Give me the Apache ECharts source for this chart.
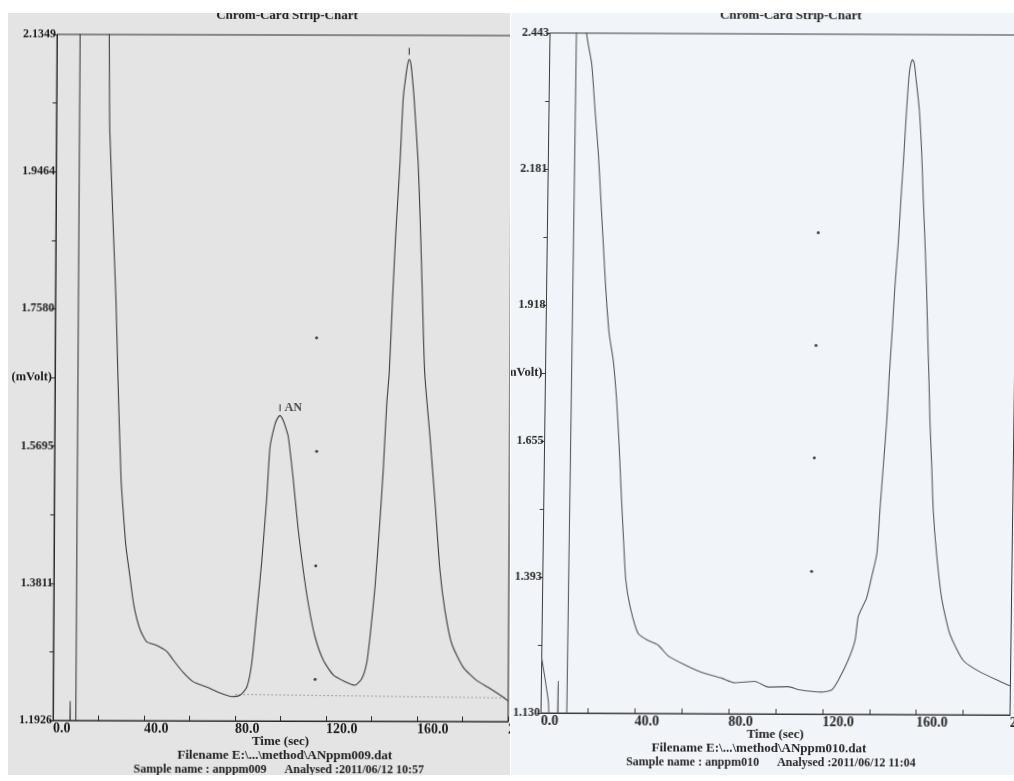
<!DOCTYPE html>
<html>
<head>
<meta charset="utf-8">
<script src="https://cdn.jsdelivr.net/npm/echarts@6/dist/echarts.min.js"></script>
<style>
  html, body { margin: 0; padding: 0; width: 1014px; height: 781px; overflow: hidden; background: #ffffff; }
  .panel { position: absolute; overflow: hidden; }
  #leftWrap { left: 8px; top: 13px; width: 502px; height: 762px; background: #e4e4e4; }
  #rightWrap { left: 511px; top: 13px; width: 503px; height: 762px; background: #f1f4f9; }
  #leftChart { position: absolute; left: -8px; top: -13px; width: 540px; height: 781px;
    transform-origin: 282.5px 378px; transform: rotate(0.15deg) skewX(-0.18deg); }
  #rightChart { position: absolute; left: -511px; top: -13px; width: 1040px; height: 781px;
    transform-origin: 780px 374px; transform: rotate(0.25deg) skewX(-0.51deg); }
</style>
</head>
<body>
<div id="leftWrap" class="panel"><div id="leftChart"></div></div>
<div id="rightWrap" class="panel"><div id="rightChart"></div></div>
<script>
// ---------- data ----------
const chartTitle = 'Chrom-Card Strip-Chart';
const xAxisName = 'Time (sec)';
const yAxisName = '(mVolt)';
const xTickValues = [0, 20, 40, 60, 80, 100, 120, 140, 160, 180, 200];
const xLabelValues = [0, 40, 80, 120, 160, 200];

// left run: anppm009
const leftFile = 'Filename E:\\...\\method\\ANppm009.dat';
const leftSample = 'Sample name : anppm009      Analysed :2011/06/12 10:57';
const leftYTicks = [1.1926, 1.3811, 1.5695, 1.7580, 1.9464, 2.1349];
const leftYLabels = ['1.1926', '1.3811', '1.5695', '1.7580', '1.9464', '2.1349'];
const leftTime = [0, 7.2, 7.5, 7.8, 10.0, 10.2, 22.6, 23.0, 23.5, 26.6, 27.7, 29.3, 30.7, 31.6, 33.2, 35.3,
  38.0, 41.0, 45.4, 49.8, 52.7, 57.1, 61.6, 67.5, 73.3, 78.5, 82.2, 85.1, 87.2, 89.3, 91.3, 93.4, 94.7,
  96.8, 98.0, 99.0, 100.2, 101.4, 102.7, 105.0, 107.3, 109.6, 111.9, 114.9, 118.7, 123.1, 128.2, 132.6,
  135.6, 137.7, 139.1, 141.2, 143.2, 144.5, 145.9, 146.9, 148.2, 149.5, 151.1, 152.4, 153.8, 154.4, 154.9,
  155.5, 156.0, 157.1, 159.1, 160.3, 161.3, 162.5, 165.0, 167.4, 169.7, 172.0, 175.1, 180.2, 186.1, 192.0,
  197.9, 200];
const leftSignal = [1.17, 1.17, 1.219, 1.17, 1.17, 2.25, 2.25, 2.135, 2.000, 1.771, 1.661, 1.524, 1.465, 1.432, 1.396, 1.350,
  1.318, 1.301, 1.296, 1.288, 1.276, 1.259, 1.246, 1.239, 1.231, 1.226, 1.228, 1.239, 1.272, 1.341, 1.410, 1.500, 1.569,
  1.600, 1.609, 1.612, 1.607, 1.597, 1.583, 1.524, 1.455, 1.400, 1.354, 1.309, 1.276, 1.256, 1.247, 1.242,
  1.251, 1.272, 1.308, 1.377, 1.469, 1.537, 1.629, 1.671, 1.775, 1.867, 1.959, 2.050, 2.087, 2.098, 2.102,
  2.098, 2.087, 2.050, 1.959, 1.867, 1.775, 1.671, 1.583, 1.492, 1.400, 1.345, 1.299, 1.267, 1.249, 1.238,
  1.226, 1.221];
const leftBaselineTime = [80, 200];
const leftBaselineValue = [1.229, 1.225];
const leftPeakTime = [99.0, 154.9];
const leftPeakValue = [1.612, 2.102];
const leftPeakName = ['AN', ''];
const leftDotTime = [114.9, 115.2, 115.1, 115.1];
const leftDotValue = [1.719, 1.563, 1.406, 1.250];

// right run: anppm010
const rightFile = 'Filename E:\\...\\method\\ANppm010.dat';
const rightSample = 'Sample name : anppm010      Analysed :2011/06/12 11:04';
const rightYTicks = [1.1302, 1.3928, 1.6554, 1.9180, 2.1806, 2.4432];
const rightYLabels = ['1.130', '1.393', '1.655', '1.918', '2.181', '2.443'];
const rightTime = [0, 1.2, 2.2, 3.1, 4.0, 6.9, 7.2, 7.5, 11.0, 11.3, 15.2, 15.65, 17.95, 19.6, 21.3, 22.6,
  23.9, 25.2, 26.9, 28.8, 30.5, 31.8, 32.9, 34.1, 35.4, 37.4, 41.0, 45.3, 49.6, 54.0, 61.2, 68.3, 76.8,
  82.5, 91.0, 96.7, 105.2, 110.2, 119.5, 123.8, 126.6, 130.7, 133.5, 134.8, 138.2, 140.3, 142.3, 143.4,
  144.6, 145.8, 146.6, 147.6, 148.5, 149.7, 150.6, 151.6, 152.5, 153.4, 154.1, 154.8, 155.5, 156.1, 157.9,
  159.2, 160.1, 161.1, 162.0, 162.7, 163.5, 164.2, 165.2, 166.1, 167.8, 170.2, 173.9, 179.8, 187.0, 197.0, 200];
const rightSignal = [1.236, 1.205, 1.178, 1.151, 1.10, 1.10, 1.192, 1.10, 1.10, 2.55, 2.55, 2.442, 2.384, 2.297, 2.211, 2.124,
  2.037, 1.951, 1.864, 1.812, 1.734, 1.648, 1.561, 1.474, 1.388, 1.336, 1.284, 1.271, 1.262, 1.241, 1.224, 1.210, 1.199,
  1.190, 1.193, 1.182, 1.183, 1.177, 1.173, 1.177, 1.196, 1.235, 1.273, 1.320, 1.355, 1.397, 1.440, 1.526,
  1.612, 1.698, 1.784, 1.870, 1.955, 2.041, 2.127, 2.213, 2.299, 2.367, 2.388, 2.395, 2.388, 2.367, 2.299,
  2.213, 2.127, 2.041, 1.955, 1.870, 1.784, 1.698, 1.612, 1.526, 1.440, 1.355, 1.286, 1.235, 1.213, 1.192, 1.186];
const rightDotTime = [115.5, 115.2, 115.1, 114.6];
const rightDotValue = [2.060, 1.842, 1.625, 1.406];

// ---------- build ----------
const zip = (a, b) => a.map((v, i) => [v, b[i]]);
const halfSteps = ticks => {
  const out = [];
  ticks.forEach((t, i) => { out.push(t); if (i < ticks.length - 1) out.push((t + ticks[i + 1]) / 2); });
  return out;
};
const nearestLabel = (ticks, labels) => v => {
  let best = 0;
  for (let i = 1; i < ticks.length; i++) if (Math.abs(ticks[i] - v) < Math.abs(ticks[best] - v)) best = i;
  return labels[best];
};
const FONT = '"Liberation Serif", "Times New Roman", serif';

function buildOption(p) {
  const txt = { fontFamily: FONT, fontWeight: 'bold', color: p.textColor };
  const series = [
    { type: 'line', data: zip(p.time, p.signal), showSymbol: false, symbol: 'none', smooth: 0.2, clip: true,
      lineStyle: { color: p.lineColor, width: 1.1 }, silent: true, z: 3 },
    { type: 'scatter', data: zip(p.dotTime, p.dotValue), symbol: 'circle', symbolSize: 3,
      itemStyle: { color: '#1a1a1a' }, silent: true, z: 4 }
  ];
  if (p.baseTime) {
    series.push({ type: 'line', data: zip(p.baseTime, p.baseValue), showSymbol: false, symbol: 'none',
      lineStyle: { color: '#a0a0a0', width: 1, type: [2, 2] }, silent: true, z: 2 });
  }
  if (p.peakTime) {
    series.push({ type: 'scatter', symbol: 'rect', symbolSize: [1.2, 7], symbolOffset: [0, -8],
      data: p.peakTime.map((t, i) => ({ name: p.peakName[i], value: [t, p.peakValue[i]] })),
      itemStyle: { color: '#222' },
      label: { show: true, position: 'right', distance: 4, formatter: q => q.name,
        fontFamily: FONT, fontWeight: 'bold', fontSize: 12, color: '#222' },
      silent: true, z: 5 });
  }
  const g = p.grid;
  return {
    animation: false,
    backgroundColor: 'transparent',
    title: { text: chartTitle, left: p.titleX, top: 9, padding: 0, textAlign: 'center',
      textStyle: Object.assign({ fontSize: 13 }, txt) },
    grid: { left: g[0], top: g[1], width: g[2], height: g[3], show: true, containLabel: false,
      outerBoundsMode: 'none',
      borderColor: p.axisColor, borderWidth: 1, backgroundColor: 'transparent' },
    xAxis: {
      type: 'value', min: 0, max: 200,
      name: xAxisName, nameLocation: 'middle', nameGap: 14, nameMoveOverlap: false,
      nameTextStyle: Object.assign({ fontSize: 13 }, txt),
      axisLine: { lineStyle: { color: p.axisColor, width: 1 } },
      axisTick: { inside: true, length: 5, customValues: xTickValues, lineStyle: { color: p.axisColor } },
      axisLabel: { customValues: xLabelValues, formatter: v => v.toFixed(1), align: 'left', margin: 1,
        fontFamily: FONT, fontWeight: 'bold', fontSize: 14, color: p.textColor },
      splitLine: { show: false }
    },
    yAxis: {
      type: 'value', min: p.yTicks[0], max: p.yTicks[p.yTicks.length - 1],
      name: yAxisName, nameLocation: 'middle', nameRotate: 0, nameGap: 3, nameMoveOverlap: false,
      nameTextStyle: Object.assign({ fontSize: 12.5 }, txt),
      axisLine: { lineStyle: { color: p.axisColor, width: 1 } },
      axisTick: { length: 4, customValues: halfSteps(p.yTicks), lineStyle: { color: p.axisColor } },
      axisLabel: { customValues: p.yTicks, formatter: nearestLabel(p.yTicks, p.yLabels), margin: 1,
        fontFamily: FONT, fontWeight: 'bold', fontSize: 12, color: p.textColor },
      splitLine: { show: false }
    },
    graphic: [
      { type: 'text', silent: true, style: { text: p.file, x: p.fileX, y: g[1] + g[3] + 35,
        align: 'center', verticalAlign: 'middle', font: 'bold 13px ' + FONT, fill: p.textColor } },
      { type: 'text', silent: true, style: { text: p.sample, x: p.sampleX, y: g[1] + g[3] + 48.5,
        align: 'center', verticalAlign: 'middle', font: 'bold 12px ' + FONT, fill: p.textColor } }
    ],
    series: series
  };
}

const left = echarts.init(document.getElementById('leftChart'), null, { renderer: 'canvas' });
left.setOption(buildOption({
  titleX: 285, grid: [55, 35, 455, 686], axisColor: '#2a2a2a', textColor: '#1c1c1c', lineColor: '#3c3c3c',
  yTicks: leftYTicks, yLabels: leftYLabels, time: leftTime, signal: leftSignal,
  dotTime: leftDotTime, dotValue: leftDotValue, baseTime: leftBaselineTime, baseValue: leftBaselineValue,
  peakTime: leftPeakTime, peakValue: leftPeakValue, peakName: leftPeakName,
  file: leftFile, sample: leftSample, fileX: 287, sampleX: 281
}));

const right = echarts.init(document.getElementById('rightChart'), null, { renderer: 'canvas' });
right.setOption(buildOption({
  titleX: 786, grid: [545.5, 34, 469, 680], axisColor: '#3a3a3a', textColor: '#262626', lineColor: '#5a5a5a',
  yTicks: rightYTicks, yLabels: rightYLabels, time: rightTime, signal: rightSignal,
  dotTime: rightDotTime, dotValue: rightDotValue,
  file: rightFile, sample: rightSample, fileX: 764, sampleX: 776
}));
</script>
</body>
</html>
